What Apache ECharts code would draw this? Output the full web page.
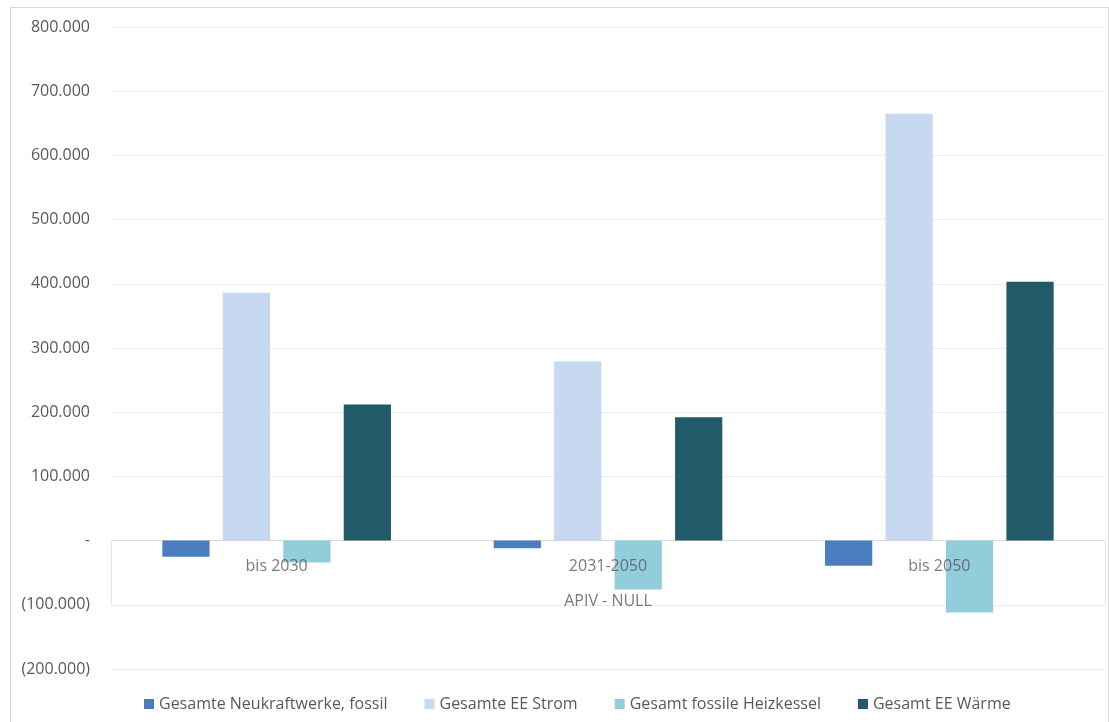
<!DOCTYPE html>
<html>
<head>
<meta charset="utf-8">
<script src="https://cdn.jsdelivr.net/npm/echarts@6/dist/echarts.min.js"></script>
<style>
html,body{margin:0;padding:0;background:#fff;}
#frame{position:absolute;left:10px;top:7px;width:1097px;height:720px;border-left:1px solid #d9d9d9;border-top:1px solid #d9d9d9;border-right:1px solid #d9d9d9;}
#chart{position:absolute;left:0;top:0;width:1109px;height:722px;}
</style>
</head>
<body>
<div id="frame"></div>
<div id="chart"></div>
<script>
const categories = ['bis 2030', '2031-2050', 'bis 2050'];
const seriesNames = ['Gesamte Neukraftwerke, fossil', 'Gesamte EE Strom', 'Gesamt fossile Heizkessel', 'Gesamt EE Wärme'];
const neukraftwerkeFossil = [-25000, -12000, -39000];
const eeStrom = [386000, 279000, 665000];
const fossileHeizkessel = [-34000, -76000, -112000];
const eeWaerme = [212000, 192000, 403000];
const colors = ['#4a7ebe', '#c6d9f0', '#92cddc', '#215a68'];
const axisName = 'APIV - NULL';

function fmt(v) {
  if (v === 0) return '-';
  const s = Math.abs(v).toString().replace(/\B(?=(\d{3})+(?!\d))/g, '.');
  return v < 0 ? '(' + s + ')' : s;
}

const font = '"Open Sans", "Noto Sans", sans-serif';
const chart = echarts.init(document.getElementById('chart'));
const data = [neukraftwerkeFossil, eeStrom, fossileHeizkessel, eeWaerme];
const series = data.map((d, i) => ({
  name: seriesNames[i], type: 'bar', data: d,
  barGap: '28%', barCategoryGap: '31%',
  itemStyle: { color: colors[i] }
}));
// category labels placed at the zero line
series.push({
  name: '__labels', type: 'scatter', symbolSize: 1,
  itemStyle: { color: 'rgba(0,0,0,0)' },
  silent: true, z: 10,
  data: categories.map(c => [c, 0]),
  label: {
    show: true, position: 'bottom', distance: 8,
    color: '#595959', fontSize: 16, fontFamily: font, lineHeight: 35, align: 'center',
    formatter: p => p.dataIndex === 1 ? categories[1] + '\n' + axisName : categories[p.dataIndex]
  }
});
chart.setOption({
  animation: false,
  color: colors,
  textStyle: { fontFamily: font },
  grid: { left: 111, right: 4, top: 27, bottom: 53, outerBoundsMode: 'none', containLabel: false },
  legend: {
    bottom: 5, left: 139, itemWidth: 10, itemHeight: 10, itemGap: 37,
    icon: 'rect',
    textStyle: { color: '#595959', fontSize: 16, fontFamily: font },
    data: seriesNames
  },
  xAxis: {
    type: 'category', data: categories,
    axisLine: { onZero: true, lineStyle: { color: '#d9d9d9' } },
    axisTick: { show: true, length: 64, lineStyle: { color: '#e6e6e6' }, interval: function (i) { return i === 0; } },
    axisLabel: { show: false }
  },
  yAxis: {
    type: 'value', min: -200000, max: 800000, interval: 100000,
    axisLine: { show: false }, axisTick: { show: false },
    splitLine: { lineStyle: { color: '#ececec' } },
    axisLabel: { color: '#595959', fontSize: 16, margin: 21, formatter: fmt }
  },
  series: series
});
</script>
</body>
</html>
